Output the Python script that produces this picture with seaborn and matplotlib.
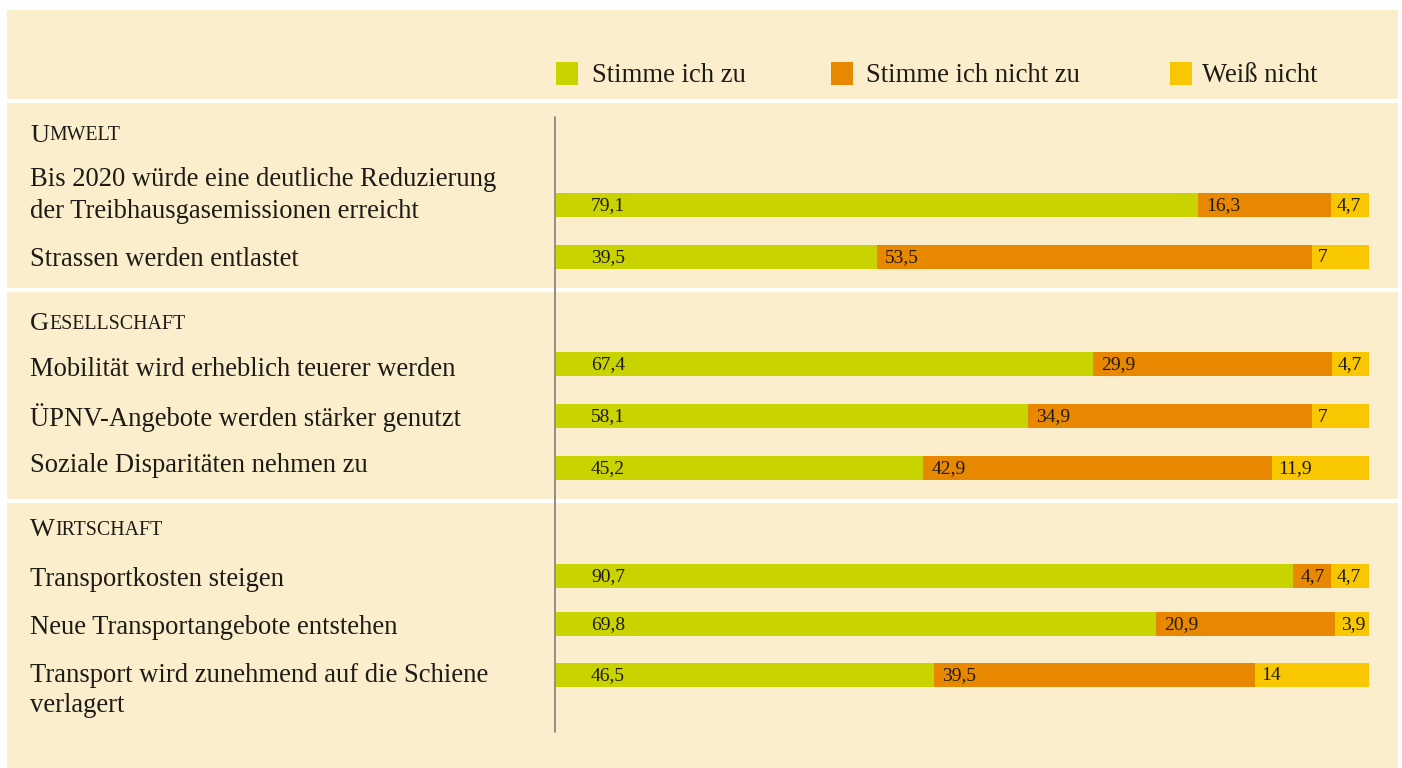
import numpy as np
import pandas as pd
import matplotlib
matplotlib.use("Agg")
import matplotlib.pyplot as plt
import seaborn as sns
from matplotlib.patches import Rectangle

# ---------------- data ----------------
series = ["Stimme ich zu", "Stimme ich nicht zu", "Weiß nicht"]
sections = ["Umwelt", "Gesellschaft", "Wirtschaft"]
statements = [
    "Bis 2020 würde eine deutliche Reduzierung\nder Treibhausgasemissionen erreicht",
    "Strassen werden entlastet",
    "Mobilität wird erheblich teuerer werden",
    "ÜPNV-Angebote werden stärker genutzt",
    "Soziale Disparitäten nehmen zu",
    "Transportkosten steigen",
    "Neue Transportangebote entstehen",
    "Transport wird zunehmend auf die Schiene\nverlagert",
]
agree = [79.1, 39.5, 67.4, 58.1, 45.2, 90.7, 69.8, 46.5]
disagree = [16.3, 53.5, 29.9, 34.9, 42.9, 4.7, 20.9, 39.5]
dont_know = [4.7, 7, 4.7, 7, 11.9, 4.7, 3.9, 14]

# ---------------- layout (pixels) ----------------
W, H = 1402, 768
BAR_X0, BAR_X1 = 556, 1369
row_y = [205, 257, 364, 416, 468, 576, 624, 675]
label_y = [177, 256, 367, 415, 463, 576, 624, 672]
section_y = [133, 322, 528]
sep_y = [101, 290, 501]
LINE_STEP = 31
BAR_H = 24

colors = {"Stimme ich zu": "#C8D300", "Stimme ich nicht zu": "#E88700", "Weiß nicht": "#F8C700"}
BG = "#FBEECC"
TXT = "#1E1A16"
FONT = ["Liberation Serif", "DejaVu Serif"]

sns.set_theme(style="white")
plt.rcParams["font.family"] = FONT

fig = plt.figure(figsize=(W / 100, H / 100), dpi=100)
fig.patch.set_facecolor("white")

# background axes in pixel coordinates
bg = fig.add_axes([0, 0, 1, 1])
bg.set_xlim(0, W)
bg.set_ylim(H, 0)
bg.axis("off")
bg.add_patch(Rectangle((7, 10), 1391, H - 10, facecolor=BG, edgecolor="none"))
for y in sep_y:
    bg.plot([7, 1398], [y, y], color="white", lw=3, solid_capstyle="butt")
bg.plot([555, 555], [117, 732], color="#8a8680", lw=1.3)

def fx(x):
    return x / W

def fy(y):
    return 1 - y / H

# ---------------- bars ----------------
axb = fig.add_axes([BAR_X0 / W, 0, (BAR_X1 - BAR_X0) / W, 1])
recs = []
for i in range(len(statements)):
    tot = agree[i] + disagree[i] + dont_know[i]
    recs.append({"ypos": row_y[i], "series": "Weiß nicht", "end": 100.0})
    recs.append({"ypos": row_y[i], "series": "Stimme ich nicht zu", "end": (agree[i] + disagree[i]) / tot * 100})
    recs.append({"ypos": row_y[i], "series": "Stimme ich zu", "end": agree[i] / tot * 100})
df = pd.DataFrame(recs)
min_gap = np.min(np.diff(sorted(set(row_y))))
sns.barplot(data=df, x="end", y="ypos", hue="series",
            hue_order=["Weiß nicht", "Stimme ich nicht zu", "Stimme ich zu"],
            palette=colors, orient="h", native_scale=True, dodge=False,
            width=BAR_H / min_gap, saturation=1, errorbar=None, legend=False,
            linewidth=0, ax=axb)
axb.set_xlim(0, 100)
axb.set_ylim(H, 0)
axb.axis("off")
axb.patch.set_alpha(0)

px_per_unit = (BAR_X1 - BAR_X0) / 100.0

def fmt(v):
    if float(v).is_integer():
        return str(int(v))
    return f"{v:.1f}".replace(".", ",")

offsets = [35, 8, 6]
for i in range(len(statements)):
    tot = agree[i] + disagree[i] + dont_know[i]
    vals = [agree[i], disagree[i], dont_know[i]]
    start = 0.0
    for j, v in enumerate(vals):
        axb.text(start + offsets[j] / px_per_unit, row_y[i] + 1, fmt(v),
                 va="center", ha="left", fontsize=14, color=TXT, family=FONT)
        start += v / tot * 100

# ---------------- labels ----------------
LAB_FS = 19.2
for i, s in enumerate(statements):
    for k, line in enumerate(s.split("\n")):
        fig.text(fx(30), fy(label_y[i] + k * LINE_STEP), line, fontsize=LAB_FS,
                 va="center_baseline", ha="left", color=TXT, family=FONT)

renderer = fig.canvas.get_renderer()
for name, y in zip(sections, section_y):
    t = fig.text(fx(30), fy(y), name[0], fontsize=19, va="center_baseline",
                 ha="left", color=TXT, family=FONT)
    bb = t.get_window_extent(renderer)
    fig.text(bb.x1 / W + 0.0005, fy(y), name[1:].upper(), fontsize=14.3,
             va="center_baseline", ha="left", color=TXT, family=FONT)

# ---------------- legend ----------------
leg_sq_x = [556, 831, 1170]
leg_txt_x = [592, 866, 1202]
LEG_Y = 73
for s, sx, tx in zip(series, leg_sq_x, leg_txt_x):
    bg.add_patch(Rectangle((sx, LEG_Y - 11.5), 22, 23, facecolor=colors[s], edgecolor="none"))
    fig.text(fx(tx), fy(LEG_Y), s, fontsize=LAB_FS, va="center_baseline",
             ha="left", color=TXT, family=FONT)

fig.savefig("out.png", dpi=100, facecolor=fig.get_facecolor())
